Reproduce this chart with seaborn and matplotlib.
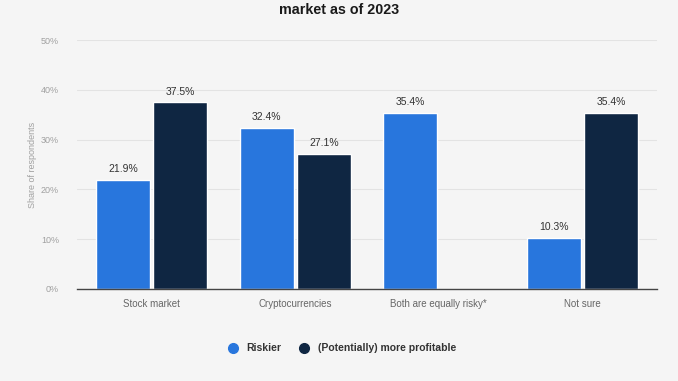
import matplotlib
matplotlib.use("Agg")
import matplotlib.pyplot as plt
import numpy as np
import pandas as pd
import seaborn as sns

categories = ["Stock market", "Cryptocurrencies", "Both are equally risky*", "Not sure"]
riskier = [21.9, 32.4, 35.4, 10.3]
profitable = [37.5, 27.1, np.nan, 35.4]
series = ["Riskier", "(Potentially) more profitable"]
colors = ["#2876DD", "#0F2642"]
yticks = [0, 10, 20, 30, 40, 50]

df = pd.DataFrame({
    "category": categories * 2,
    "series": [series[0]] * 4 + [series[1]] * 4,
    "value": riskier + profitable,
})

bg = "#F5F5F5"
sns.set_style("white")
plt.rcParams["font.family"] = ["Liberation Sans", "DejaVu Sans"]

fig = plt.figure(figsize=(6.78, 3.81), dpi=100, facecolor=bg)
ax = fig.add_axes([0.1136, 0.2415, 0.8554, 0.6535])
ax.set_facecolor(bg)

sns.barplot(data=df, x="category", y="value", hue="series", palette=colors,
            width=0.8, gap=0.06, saturation=1, ax=ax, legend=False, zorder=3)

for cont in ax.containers:
    labels = ["" if np.isnan(v) else f"{v:.1f}%" for v in cont.datavalues]
    ax.bar_label(cont, labels=labels, padding=4, fontsize=7.5, color="#333333")

ax.set_ylim(0, 50)
ax.set_xlim(-0.52, 3.52)
ax.set_yticks(yticks)
ax.set_yticklabels([f"{t}%" for t in yticks])
ax.yaxis.grid(True, color="#E3E3E3", linewidth=0.8, zorder=0)
ax.tick_params(axis="y", length=0, labelsize=6.5, labelcolor="#A0A0A0", pad=13)
ax.tick_params(axis="x", length=0, labelsize=7, labelcolor="#666666", pad=7)
ax.set_xlabel("")
ax.set_ylabel("Share of respondents", fontsize=6.5, color="#A0A0A0", labelpad=3)
for s in ["top", "right", "left"]:
    ax.spines[s].set_visible(False)
ax.spines["bottom"].set_color("#444444")
ax.spines["bottom"].set_linewidth(1)
ax.spines["bottom"].set_zorder(4)

fig.text(0.5, 0.975, "market as of 2023", ha="center", va="center",
         fontsize=10.3, fontweight="bold", color="#1A1A1A")

handles = [plt.Line2D([], [], marker="o", linestyle="", markersize=7,
                      markerfacecolor=c, markeredgecolor=c) for c in colors]
leg = fig.legend(handles, series, loc="center", bbox_to_anchor=(0.5, 0.086),
                 ncol=2, frameon=False, fontsize=7.5, handletextpad=0.3,
                 columnspacing=1.2)
for t in leg.get_texts():
    t.set_fontweight("bold")
    t.set_color("#333333")

fig.savefig("out.png", dpi=100, facecolor=bg)
